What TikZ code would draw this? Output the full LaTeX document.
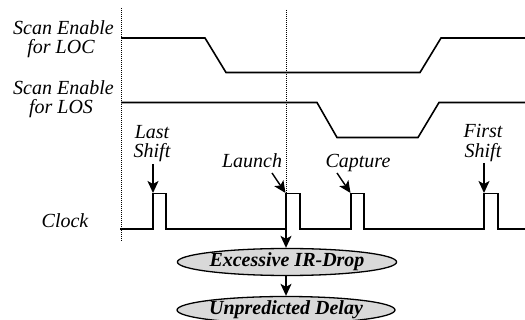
\documentclass[tikz,border=0pt]{standalone}
\usepackage{fontspec}
\setmainfont{Liberation Serif}
\usetikzlibrary{arrows.meta,shapes.geometric}
\tikzset{
  wave/.style={line width=1.6pt, line join=miter},
  guide/.style={line width=1pt, dash pattern=on 1pt off 1pt},
  lbl/.style={font=\fontsize{20}{22}\selectfont\itshape, inner sep=0pt, anchor=base},
  ptr/.style={line width=1.4pt, -{Stealth[length=12pt,width=11pt,inset=3pt]}},
  effect/.style={ellipse, draw, line width=1.3pt, fill=gray!30, inner sep=0pt,
    minimum width=218pt, minimum height=27pt,
    font=\fontsize{20}{22}\selectfont\bfseries\itshape}
}
\begin{document}
\begin{tikzpicture}[x=1pt,y=-1pt]
\useasboundingbox (0,0) rectangle (525,320);
% guide lines
\coordinate (g1t) at (121,8);
\coordinate (g1b) at (121,241);
\coordinate (g2t) at (286,10);
\coordinate (g2b) at (286,193);
\draw[guide] (g1t) -- (g1b);
\draw[guide] (g2t) -- (g2b);
% signal names
\node[lbl] (se1a) at (63.5,35) {Scan Enable};
\node[lbl] (se1b) at (61,54) {for LOC};
\node[lbl] (se2a) at (63.5,95) {Scan Enable};
\node[lbl] (se2b) at (61,114) {for LOS};
\node[lbl] (clk) at (65,228) {Clock};
% waveforms
\draw[wave] (121,38) -- (205,38) -- (226,72.5) -- (420,72.5) -- (441,38) -- (525,38);
\draw[wave] (121,102.5) -- (317,102.5) -- (337,137.5) -- (418,137.5) -- (439,102.5) -- (525,102.5);
\draw[wave] (120,229) -- (153,229) -- (153,193.5) -- (166,193.5) -- (166,229)
  -- (286,229) -- (286,193.5) -- (300,193.5) -- (300,229)
  -- (351,229) -- (351,193.5) -- (364,193.5) -- (364,229)
  -- (484,229) -- (484,193.5) -- (498,193.5) -- (498,229) -- (525,229);
% pulse tops
\coordinate (p1) at (153,193);
\coordinate (p2) at (285.5,193);
\coordinate (p3) at (350.5,193);
\coordinate (p4) at (484,193);
\coordinate (p2low) at (286,229);
% pulse labels
\node[lbl] (ls1) at (152,139) {Last};
\node[lbl] (ls2) at (152,158) {Shift};
\node[lbl] (la) at (252,168) {Launch};
\node[lbl] (ca) at (358,168) {Capture};
\node[lbl] (fs1) at (483,138) {First};
\node[lbl] (fs2) at (483,158) {Shift};
\coordinate (a1) at (153,164);
\coordinate (a2) at (272,173);
\coordinate (a3) at (337,173);
\coordinate (a4) at (484,163);
\draw[ptr] (a1) -- (p1);
\draw[ptr] (a2) -- (p2);
\draw[ptr] (a3) -- (p3);
\draw[ptr] (a4) -- (p4);
% effects
\node[effect] (ir) at (287,262) {Excessive IR-Drop};
\node[effect] (ud) at (286,310) {Unpredicted Delay};
\draw[ptr] (p2low) -- (ir.north -| p2low);
\draw[ptr] (ir.south -| p2low) -- (ud.north -| p2low);
\end{tikzpicture}
\end{document}
